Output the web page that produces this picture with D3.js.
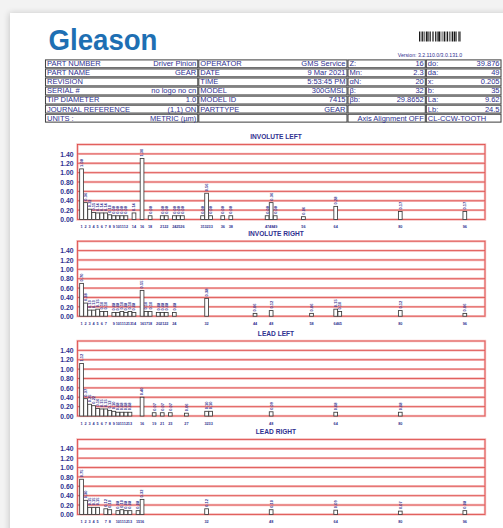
<!DOCTYPE html>
<html>
<head>
<meta charset="utf-8">
<script src="https://cdn.jsdelivr.net/npm/d3@7"></script>
<style>
  html, body { margin: 0; padding: 0; background: #f3f3f3; }
  svg { display: block; }
</style>
</head>
<body>
<svg id="report" width="503" height="528"></svg>
<script>
// ---- report data ----
const chartTitles = ["INVOLUTE LEFT", "INVOLUTE RIGHT", "LEAD LEFT", "LEAD RIGHT"];
const yTicks = [0, 0.2, 0.4, 0.6, 0.8, 1.0, 1.2, 1.4];

const involuteLeftOrders = [1, 2, 3, 4, 5, 6, 7, 8, 9, 10, 11, 12, 14, 16, 18, 21, 22, 24, 25, 26, 31, 32, 33, 36, 38, 47, 48, 49, 56, 64, 80, 96];
const involuteLeftValues = [1.08, 0.36, 0.22, 0.15, 0.14, 0.14, 0.14, 0.10, 0.08, 0.08, 0.08, 0.08, 0.14, 1.30, 0.08, 0.08, 0.08, 0.08, 0.08, 0.08, 0.08, 0.56, 0.08, 0.08, 0.08, 0.08, 0.36, 0.08, 0.06, 0.28, 0.17, 0.17];

const involuteRightOrders = [1, 2, 3, 4, 5, 6, 7, 9, 10, 11, 12, 13, 14, 16, 17, 18, 20, 21, 22, 24, 32, 44, 48, 58, 64, 65, 80, 96];
const involuteRightValues = [0.70, 0.28, 0.13, 0.13, 0.15, 0.10, 0.10, 0.08, 0.08, 0.10, 0.08, 0.10, 0.08, 0.55, 0.10, 0.10, 0.08, 0.08, 0.08, 0.08, 0.38, 0.06, 0.12, 0.06, 0.15, 0.10, 0.12, 0.06];

const leadLeftOrders = [1, 2, 3, 4, 5, 6, 7, 8, 9, 10, 11, 12, 13, 16, 19, 21, 23, 27, 32, 33, 48, 64, 80];
const leadLeftValues = [1.12, 0.37, 0.25, 0.22, 0.16, 0.15, 0.15, 0.12, 0.10, 0.08, 0.08, 0.08, 0.08, 0.40, 0.07, 0.07, 0.07, 0.06, 0.10, 0.10, 0.09, 0.08, 0.08];

const leadRightOrders = [1, 2, 3, 4, 5, 7, 8, 10, 11, 12, 13, 15, 16, 32, 48, 64, 80, 96];
const leadRightValues = [0.75, 0.30, 0.15, 0.15, 0.15, 0.12, 0.10, 0.08, 0.10, 0.08, 0.08, 0.08, 0.32, 0.12, 0.10, 0.09, 0.07, 0.08];

// header table, one array per column
const infoLabelsA = ["PART NUMBER", "PART NAME", "REVISION", "SERIAL #", "TIP DIAMETER", "JOURNAL REFERENCE", "UNITS :"];
const infoValuesA = ["Driver Pinion", "GEAR", "", "no logo no cn", "1.0", "(1,1) ON", "METRIC (µm)"];
const infoLabelsB = ["OPERATOR", "DATE", "TIME", "MODEL", "MODEL ID", "PARTTYPE", ""];
const infoValuesB = ["GMS Service", "9 Mar 2021", "5:53:45 PM", "300GMSL", "7415", "GEAR", ""];
const infoLabelsC = ["Z:", "Mn:", "αN:", "β:", "βb:", "", ""];
const infoValuesC = ["16", "2.3", "20", "32", "29.8652", "", "Axis Alignment OFF"];
const infoLabelsD = ["do:", "da:", "x:", "b:", "La:", "Lb:", "CL-CCW-TOOTH"];
const infoValuesD = ["39.876", "49", "0.205", "35", "9.62", "24.5", ""];

const versionText = "Version: 3.2.110.0/3.0.131.0";
const barcodeWidths = [2,1,1,1,2,1,1,2,3,1,1,1,2,2,1,1,1,2,2,1,1,1,3,1,1,2,1,1,2,1,1,1,2,2,1,1,1,1,2,1,3,1,1,2,1,1,2,1];

const chartSeries = [
  { orders: involuteLeftOrders, values: involuteLeftValues },
  { orders: involuteRightOrders, values: involuteRightValues },
  { orders: leadLeftOrders, values: leadLeftValues },
  { orders: leadRightOrders, values: leadRightValues }
];

// ---- drawing ----
const ink = "#2f3190";
const gridRed = "#dc4a46";
const gridHalo = "#f6bcbc";
const font = "Liberation Sans, Arial, sans-serif";
const svg = d3.select("#report");

// paper sheet
const defs = svg.append("defs");
const shadow = defs.append("filter").attr("id", "sheetShadow").attr("x", "-5%").attr("y", "-5%").attr("width", "110%").attr("height", "110%");
shadow.append("feGaussianBlur").attr("in", "SourceAlpha").attr("stdDeviation", 3);
shadow.append("feOffset").attr("dx", -1).attr("dy", 0).attr("result", "off");
shadow.append("feComponentTransfer").append("feFuncA").attr("type", "linear").attr("slope", 0.18);
const merge = shadow.append("feMerge");
merge.append("feMergeNode");
merge.append("feMergeNode").attr("in", "SourceGraphic");

svg.append("rect").attr("x", 10).attr("y", 13).attr("width", 500).attr("height", 530)
  .attr("fill", "#ffffff").attr("filter", "url(#sheetShadow)");

// logo
svg.append("text").attr("x", 48.5).attr("y", 50)
  .attr("font-family", font).attr("font-weight", "bold")
  .attr("font-size", 29.5).attr("fill", "#1e6fb3")
  .attr("textLength", 109).attr("lengthAdjust", "spacingAndGlyphs")
  .text("Gleason");

// barcode
let bx = 419;
const barcodeBars = barcodeWidths.map((w, i) => { const b = { x: bx, w: w * 0.62, on: i % 2 === 0 }; bx += w * 0.62; return b; });
svg.append("g").selectAll("rect").data(barcodeBars.filter(b => b.on)).join("rect")
  .attr("x", d => d.x).attr("y", 31.5).attr("width", d => d.w).attr("height", 10)
  .attr("fill", "#1a1a1a");

svg.append("text").attr("x", 430).attr("y", 57).attr("text-anchor", "middle")
  .attr("font-family", font).attr("font-size", 5.2)
  .attr("fill", ink).text(versionText);

// header table
const colEdges = [45, 198.3, 347.5, 425.8, 501.5];
const tableTop = 59.3, rowH = 9.06;
const yRow = d3.scaleLinear().domain([0, 7]).range([tableTop, tableTop + 7 * rowH]);
const table = svg.append("g").attr("font-family", font)
  .attr("font-size", 7.5).attr("fill", ink);

d3.range(7).forEach(r => {
  for (let c = 0; c < 4; c++) {
    table.append("rect")
      .attr("x", colEdges[c] + 0.5).attr("y", yRow(r) + 0.6)
      .attr("width", colEdges[c + 1] - colEdges[c] - 1).attr("height", rowH - 1.2)
      .attr("fill", "none").attr("stroke", "#444").attr("stroke-width", 1.05);
  }
});
const tableCols = [
  [infoLabelsA, infoValuesA],
  [infoLabelsB, infoValuesB],
  [infoLabelsC, infoValuesC],
  [infoLabelsD, infoValuesD]
];
tableCols.forEach(([labels, values], c) => {
  table.append("g").selectAll("text").data(labels).join("text")
    .attr("x", colEdges[c] + 2).attr("y", (d, i) => yRow(i) + 6.9)
    .text(d => d);
  table.append("g").selectAll("text").data(values).join("text")
    .attr("x", colEdges[c + 1] - 2).attr("y", (d, i) => yRow(i) + 6.9)
    .attr("text-anchor", "end").text(d => d);
});

// spectrum charts
const x = d3.scaleLinear().domain([0, 101]).range([77.5, 485]);
const plotH = 75;
const chartTopPos = [144.5, 241.2, 341, 439.4];
const fmt = d3.format(".2f");

chartSeries.forEach((s, ci) => {
  const top = chartTopPos[ci], bottom = top + plotH;
  const y = d3.scaleLinear().domain([0, 1.6]).range([bottom, top]);
  const g = svg.append("g");

  g.append("text").attr("x", 276).attr("y", top - 5.5).attr("text-anchor", "middle")
    .attr("font-family", font).attr("font-weight", "bold")
    .attr("font-size", 6.6).attr("fill", ink).text(chartTitles[ci]);

  // grid and frame: soft halo under a thin red rule
  const gridLevels = yTicks.slice(1);
  [[gridHalo, 2.4], [gridRed, 0.8]].forEach(([col, w]) => {
    g.append("g").selectAll("line").data(gridLevels).join("line")
      .attr("x1", x.range()[0]).attr("x2", x.range()[1])
      .attr("y1", d => y(d)).attr("y2", d => y(d))
      .attr("stroke", col).attr("stroke-width", w);
    g.append("rect").attr("x", x.range()[0]).attr("y", top)
      .attr("width", x.range()[1] - x.range()[0]).attr("height", plotH)
      .attr("fill", "none").attr("stroke", col).attr("stroke-width", w);
  });

  // y axis labels
  const yAxis = d3.axisLeft(y).tickValues(yTicks).tickFormat(fmt).tickSize(0).tickPadding(4);
  const ya = g.append("g").attr("transform", `translate(${x.range()[0]},0)`).call(yAxis);
  ya.select(".domain").remove();
  ya.selectAll("text").attr("font-family", font)
    .attr("font-weight", "bold").attr("font-size", 6.8).attr("fill", ink);

  const bars = s.orders.map((o, i) => ({ order: o, value: s.values[i] }));
  const bw = x(1) - x(0) - 0.3;

  g.append("g").selectAll("rect").data(bars).join("rect")
    .attr("x", d => x(d.order) - bw / 2).attr("y", d => y(d.value))
    .attr("width", bw).attr("height", d => y(0) - y(d.value))
    .attr("fill", "#ffffff").attr("stroke", "#3a3a3a").attr("stroke-width", 0.85);

  // value labels above the bars
  g.append("g").selectAll("text").data(bars).join("text")
    .attr("transform", d => `translate(${x(d.order) + 1.4},${y(d.value) - 2}) rotate(-90)`)
    .attr("font-family", font).attr("font-weight", "bold")
    .attr("font-size", 4).attr("fill", ink).text(d => fmt(d.value));

  // order labels under the axis
  g.append("g").selectAll("text").data(bars).join("text")
    .attr("x", d => x(d.order)).attr("y", bottom + 8.5).attr("text-anchor", "middle")
    .attr("font-family", font).attr("font-weight", "bold")
    .attr("font-size", 3.8).attr("fill", ink).text(d => d.order);
});
</script>
</body>
</html>
